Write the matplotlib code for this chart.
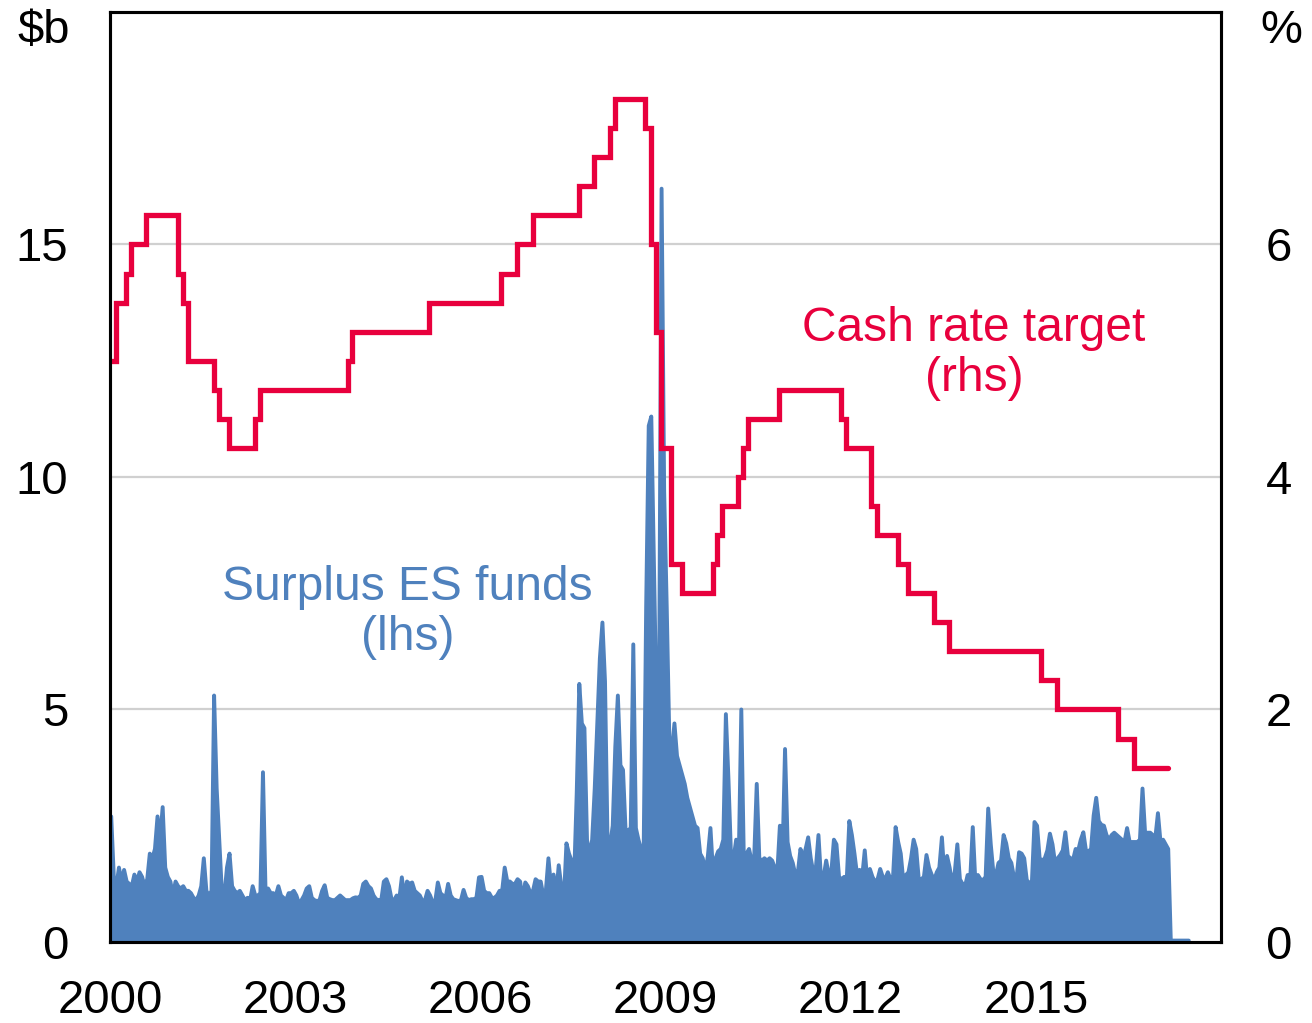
import numpy as np
import matplotlib
matplotlib.use("Agg")
from matplotlib import pyplot as plt

plt.rcParams['font.family'] = ['Liberation Sans', 'DejaVu Sans']

# Surplus exchange settlement funds, $b, about two readings per month
es_2000 = [2.7, 1.4, 1.2, 1.6, 1.3, 1.55, 1.3, 1.25, 1.2, 1.45, 1.3, 1.5,
           1.4, 1.2, 1.35, 1.9, 1.8, 2.0, 2.7, 2.2, 2.9, 1.6, 1.4, 1.3]
es_2001 = [1.0, 1.3, 1.2, 1.15, 1.2, 1.1, 1.1, 1.05, 0.95, 0.9, 1.0, 1.2,
           1.8, 1.1, 1.0, 1.1, 5.3, 3.3, 2.2, 1.1, 1.0, 1.6, 1.9, 1.2]
es_2002 = [1.1, 1.05, 1.1, 1.0, 0.9, 0.95, 0.9, 1.2, 1.0, 1.0, 1.05, 3.65,
           1.1, 1.15, 1.05, 1.05, 1.0, 1.2, 1.0, 0.95, 0.9, 1.05, 1.05, 1.1]
es_2003 = [1.0, 0.83, 0.9, 1.0, 1.15, 1.2, 0.95, 0.9, 0.88, 0.9, 1.1, 1.22,
           0.95, 0.92, 0.9, 0.9, 0.95, 1.0, 0.95, 0.9, 0.9, 0.9, 0.94, 0.96]
es_2004 = [0.95, 1.0, 1.25, 1.3, 1.2, 1.15, 1.0, 0.92, 0.9, 0.9, 1.3, 1.35,
           1.2, 0.92, 0.9, 1.0, 0.92, 1.39, 0.95, 1.3, 1.25, 1.28, 1.1, 1.05]
es_2005 = [1.0, 0.88, 0.9, 1.1, 1.0, 0.85, 0.88, 1.28, 1.05, 1.0, 0.95, 1.25,
           1.0, 0.92, 0.9, 0.88, 0.9, 1.12, 0.95, 0.9, 0.92, 0.92, 0.95, 1.39]
es_2006 = [1.4, 1.1, 1.05, 1.05, 0.95, 0.95, 1.0, 1.1, 1.1, 1.6, 1.3, 1.3,
           1.25, 1.25, 1.35, 1.3, 0.9, 1.28, 1.2, 1.05, 1.1, 1.35, 1.3, 1.3]
es_2007 = [1.0, 1.1, 1.8, 1.2, 1.45, 1.0, 1.65, 1.2, 0.9, 2.12, 1.9, 1.75,
           1.4, 3.2, 5.55, 4.7, 4.6, 2.2, 1.85, 2.2, 3.3, 4.7, 6.1, 6.87]
es_2008 = [5.6, 2.1, 2.1, 2.5, 4.2, 5.3, 3.8, 3.7, 2.4, 2.4, 2.45, 6.4,
           2.45, 2.2, 2.0, 1.8, 7.2, 11.1, 11.3, 8.2, 5.1, 5.1, 16.2, 9.7]
es_2009 = [7.2, 4.4, 4.1, 4.7, 4.0, 3.8, 3.6, 3.4, 3.1, 2.9, 2.7, 2.5,
           2.45, 1.9, 1.8, 1.5, 1.85, 2.45, 1.5, 1.8, 1.95, 2.0, 2.2, 4.9]
es_2010 = [3.5, 1.85, 1.8, 2.2, 1.75, 5.0, 1.7, 1.9, 2.0, 1.75, 1.8, 3.4,
           1.8, 1.75, 1.8, 1.75, 1.8, 1.75, 1.6, 1.5, 2.5, 1.8, 4.15, 2.15]
es_2011 = [1.85, 1.7, 1.45, 1.5, 2.0, 1.8, 2.0, 2.25, 1.8, 1.5, 1.6, 2.3,
           1.35, 1.4, 1.75, 1.45, 1.5, 2.2, 2.1, 1.4, 1.35, 1.4, 1.35, 2.6]
es_2012 = [2.3, 1.9, 1.45, 1.55, 1.4, 1.97, 1.3, 1.57, 1.4, 1.3, 1.35, 1.57,
           1.4, 1.37, 1.5, 1.35, 1.4, 2.47, 2.15, 1.9, 1.3, 1.44, 1.5, 1.8]
es_2013 = [2.2, 2.0, 1.35, 1.35, 1.4, 1.87, 1.6, 1.45, 1.33, 1.5, 1.6, 2.25,
           1.4, 1.85, 1.6, 1.27, 1.5, 2.1, 1.35, 1.25, 1.2, 1.44, 1.35, 2.47]
es_2014 = [1.3, 1.44, 1.35, 1.33, 1.4, 2.87, 2.1, 1.5, 1.44, 1.7, 1.75, 2.3,
           2.12, 1.8, 1.7, 1.4, 1.35, 1.93, 1.9, 1.8, 1.33, 1.27, 1.3, 2.58]
es_2015 = [2.5, 1.8, 1.75, 1.8, 1.97, 2.33, 2.1, 1.7, 1.8, 1.87, 1.97, 2.36,
           1.85, 1.8, 1.77, 2.0, 1.97, 2.2, 2.36, 1.97, 1.95, 2.0, 2.72, 3.1]
es_2016 = [2.6, 2.52, 2.5, 2.3, 2.2, 2.3, 2.35, 2.3, 2.25, 2.2, 2.15, 2.45,
           2.15, 2.15, 2.15, 2.15, 2.2, 3.3, 2.35, 2.35, 2.35, 2.3, 2.25, 2.77]
es_2017 = [2.15, 2.2, 2.1, 2.0, 0.03, 0.03, 0.03, 0.03, 0.03, 0.03, 0.03, 0.03]

# Cash rate target, % (date of change as decimal year)
rate_dates = [2000.0, 2000.09, 2000.26, 2000.34, 2000.59, 2001.10, 2001.18,
              2001.26, 2001.68, 2001.76, 2001.93, 2002.35, 2002.43, 2003.85,
              2003.92, 2005.17, 2006.34, 2006.59, 2006.85, 2007.60, 2007.85,
              2008.10, 2008.18, 2008.67, 2008.77, 2008.85, 2008.92, 2009.09,
              2009.27, 2009.77, 2009.84, 2009.92, 2010.17, 2010.26, 2010.34,
              2010.84, 2011.84, 2011.93, 2012.33, 2012.43, 2012.76, 2012.93,
              2013.35, 2013.60, 2015.09, 2015.34, 2016.34, 2016.59, 2017.15]
rates = [5.00, 5.50, 5.75, 6.00, 6.25, 5.75, 5.50, 5.00, 4.75, 4.50, 4.25,
         4.50, 4.75, 5.00, 5.25, 5.50, 5.75, 6.00, 6.25, 6.50, 6.75, 7.00,
         7.25, 7.00, 6.00, 5.25, 4.25, 3.25, 3.00, 3.25, 3.50, 3.75, 4.00,
         4.25, 4.50, 4.75, 4.50, 4.25, 3.75, 3.50, 3.25, 3.00, 2.75, 2.50,
         2.25, 2.00, 1.75, 1.50, 1.50]

years = [2000, 2003, 2006, 2009, 2012, 2015]

es = (es_2000 + es_2001 + es_2002 + es_2003 + es_2004 + es_2005 + es_2006 +
      es_2007 + es_2008 + es_2009 + es_2010 + es_2011 + es_2012 + es_2013 +
      es_2014 + es_2015 + es_2016 + es_2017)
t = 2000 + (np.arange(len(es)) + 0.5) / 24

blue = '#4F81BD'
red = '#E8003D'

fig = plt.figure(figsize=(13.12, 10.23), dpi=100)
ax = fig.add_axes([0.0838, 0.0792, 0.8468, 0.9091])
ax2 = ax.twinx()

for v in [5, 10, 15]:
    ax.axhline(v, color='#D0D0D0', lw=1.6, zorder=0)

ax.fill_between(t, es, 0, color=blue, lw=0, zorder=2)
ax.plot(t, es, color=blue, lw=2.8, zorder=3,
        solid_joinstyle='round', solid_capstyle='round')

ax2.step(rate_dates, rates, where='post', color=red, lw=3.8,
         solid_capstyle='round', solid_joinstyle='miter')

ax.set_xlim(2000, 2018)
ax.set_ylim(0, 20)
ax2.set_ylim(0, 8)

ax.set_xticks(years)
ax.set_xticklabels([str(y) for y in years])
ax.set_yticks([0, 5, 10, 15])
ax2.set_yticks([0, 2, 4, 6])

ax.tick_params(axis='x', direction='in', length=13, width=2, labelsize=34, pad=27)
ax.tick_params(axis='y', length=0, labelsize=34, pad=30)
ax2.tick_params(axis='y', length=0, labelsize=34, pad=32)

for a in (ax, ax2):
    for s in a.spines.values():
        s.set_linewidth(2.2)
        s.set_color('black')

ax.text(-0.06, 0.98, r'\$b', transform=ax.transAxes, fontsize=34,
        ha='center', va='center')
ax2.text(1.054, 0.98, '%', transform=ax.transAxes, fontsize=34,
         ha='center', va='center')

ax.text(2014.0, 12.66, 'Cash rate target\n(rhs)', color=red, fontsize=34.5,
        ha='center', va='center', linespacing=1.15)
ax.text(2004.82, 7.08, 'Surplus ES funds\n(lhs)', color=blue, fontsize=34.5,
        ha='center', va='center', linespacing=1.15)

fig.savefig('out.png', dpi=100)
